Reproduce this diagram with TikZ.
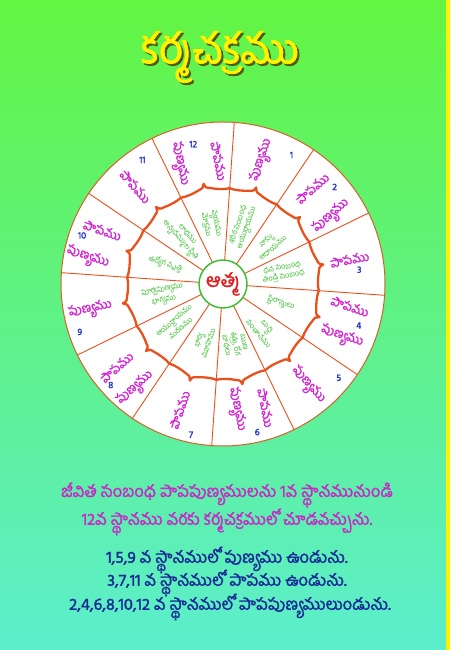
\documentclass[tikz,border=0pt]{standalone}
\usepackage{fontspec}
\newfontfamily\tel[Script=Telugu]{Hind Guntur}
\newfontfamily\telb[Script=Telugu, FakeBold=1.6]{Hind Guntur}
\definecolor{bgtop}{RGB}{98,245,66}
\definecolor{bgmid}{RGB}{95,243,105}
\definecolor{bgbot}{RGB}{92,238,205}
\definecolor{rayred}{RGB}{234,80,28}
\definecolor{rimred}{RGB}{214,96,40}
\definecolor{wordpink}{RGB}{214,30,214}
\definecolor{numblue}{RGB}{30,50,200}
\definecolor{siggreen}{RGB}{50,190,40}
\definecolor{atmared}{RGB}{226,30,30}
\definecolor{titleyel}{RGB}{255,242,0}
\definecolor{titleshd}{RGB}{80,90,15}
\definecolor{notepink}{RGB}{200,40,200}
\definecolor{noteblue}{RGB}{25,40,150}
\usetikzlibrary{positioning}

\begin{document}
\begin{tikzpicture}[x=1pt, y=1pt,
  font=\tel,
  word/.style={text=wordpink, font=\telb\fontsize{12.5}{12.5}\selectfont, inner sep=0pt},
  num/.style={text=numblue, font=\telb\fontsize{9.5}{9.5}\selectfont, inner sep=0pt},
  sig/.style={text=siggreen, font=\tel\fontsize{7.5}{9}\selectfont, align=center, inner sep=0pt},
  ray/.style={draw=rayred, line width=.9pt},
  brace/.style={draw=rayred, line width=2.3pt, line cap=round, line join=round},
  note/.style={font=\telb\fontsize{16.5}{18}\selectfont},
]
\useasboundingbox (0,0) rectangle (450,650);
\shade[top color=bgtop, middle color=bgmid, bottom color=bgbot] (0,0) rectangle (450,650);
\fill[titleyel] (446,0) rectangle (450,650);

% title with shadow
\node[font=\telb\fontsize{42}{42}\selectfont, text=titleshd] (tshadow) at (222,591) {కర్మచక్రము};
\node[font=\telb\fontsize{42}{42}\selectfont, text=titleyel] (title) at (220,593) {కర్మచక్రము};

\begin{scope}[shift={(223,366)}]
% wheel
\draw[draw=rimred, line width=1pt, fill=white] (0,0) circle (162);
\foreach \a in {86,56,...,-244}
  \draw[ray] (\a:24) -- (\a:162);
% brace ring
\foreach \a in {86,56,...,-244}
  \draw[brace] (\a:96) .. controls (\a-3:94.5) and (\a-8:95) .. (\a-12:97)
    .. controls (\a-14:97.5) and (\a-14.6:99) .. (\a-15:102)
    .. controls (\a-15.4:99) and (\a-16:97.5) .. (\a-18:97)
    .. controls (\a-22:95) and (\a-27:94.5) .. (\a-30:96);

% outer words
\foreach \ang/\rad/\rot/\txt [count=\i] in {
  72.5/130/71/పుణ్యము, 47/131/41/పాపము, 32/128/41/పుణ్యము,
  11/129/11/పాపము, -10/129/-19/పాపము, -24/130/-19/పుణ్యము,
  -50/132/-49/పుణ్యము, -71/131/-79/పాపము, -84/126/-79/పుణ్యము,
  -109/133/71/పాపము, 218/135/41/పాపము, 230/136/41/పుణ్యము,
  191/135/11/పుణ్యము, 156/132/-19/పాపము, 169/138/-19/పుణ్యము,
  132/131/-49/పాపము, 92/123/-79/పాపము, 110/128/-79/పుణ్యము}
  \node[word, rotate=\rot] (w\i) at (\ang:\rad) {\txt};

% house numbers
\foreach \ang/\rad [count=\i] in {62/146, 41/148, 6/137, -17/142, -39/149,
  -77/152, -102/154, 222/151, 198.5/151, 161/149, 123/148, 102/143}
  \node[num] (n\i) at (\ang:\rad) {\i};

% significations
\foreach \ang/\rot/\txt [count=\i] in {
  71/71/{శరీర సంబంధ\\ఆయుర్దాయము},
  41/41/{వాక్కు\\ఆదాయము},
  11/11/{ధన సంబంధ\\తండ్రి సంబంధ},
  -19/-19/{స్థిరాస్తులు},
  -49/-49/{బుద్ధి\\సంతానము},
  -79/-79/{ఋణ\\శత్రు, రోగ\\బాధలు},
  -109/71/{భార్య\\వివాహము},
  -139/41/{ఆయుర్దాయము\\మరణము},
  -169/11/{పూర్వపుణ్యము\\భాగ్యము},
  161/-19/{ఉద్యోగ వృత్తి},
  131/-49/{లాభము\\అన్నదమ్ముల స్థితి},
  101/-79/{వ్యయము\\మోక్షము}}
  \node[sig, rotate=\rot] (s\i) at (\ang:61) {\txt};

\node[circle, draw=siggreen, line width=1.4pt, fill=white, minimum size=48pt,
  inner sep=0pt, text=atmared, font=\telb\fontsize{19}{19}\selectfont] (atma) at (0,0) {ఆత్మ};
\end{scope}

% notes
\node[note, text=notepink] (l1) at (227,155) {జీవిత సంబంధ పాపపుణ్యములను 1వ స్థానమునుండి};
\node[note, text=notepink] (l2) at (227,128) {12వ స్థానము వరకు కర్మచక్రములో చూడవచ్చును.};
\node[note, text=noteblue] (l3) at (227,90) {1,5,9 వ స్థానములో పుణ్యము ఉండును.};
\node[note, text=noteblue] (l4) at (227,67) {3,7,11 వ స్థానములో పాపము ఉండును.};
\node[note, text=noteblue] (l5) at (230,43) {2,4,6,8,10,12 వ స్థానములో పాపపుణ్యములుండును.};
\end{tikzpicture}
\end{document}
